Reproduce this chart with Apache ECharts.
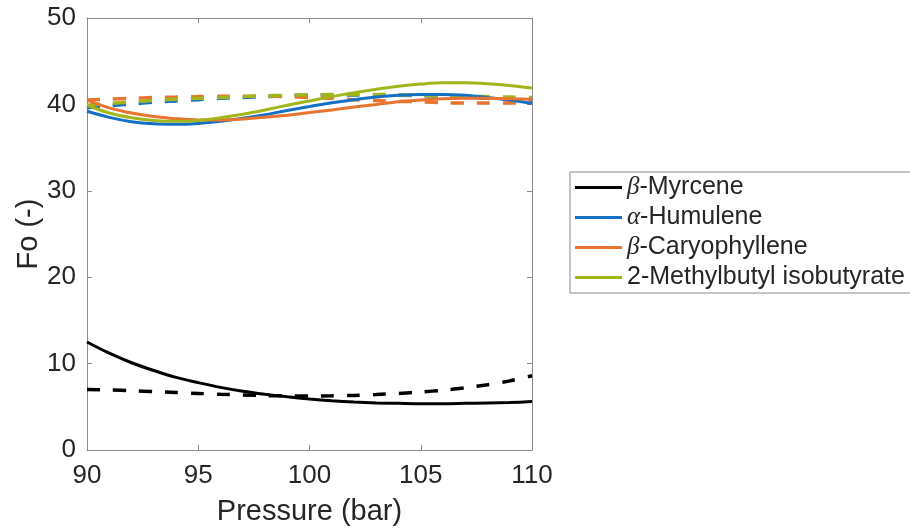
<!DOCTYPE html>
<html>
<head>
<meta charset="utf-8">
<script src="https://cdn.jsdelivr.net/npm/echarts@6/dist/echarts.min.js"></script>
<style>html,body{margin:0;padding:0;background:#fff}#c{width:910px;height:531px}</style>
</head>
<body>
<div id="c"></div>
<script>
// Pressure grid (bar)
const pressure = [90,91,92,93,94,95,96,97,98,99,100,101,102,103,104,105,106,107,108,109,110];
// Solid curves
const myrceneSolid = [12.5,11.2,10.1,9.2,8.4,7.8,7.25,6.8,6.45,6.15,5.9,5.7,5.55,5.45,5.4,5.35,5.35,5.4,5.45,5.5,5.6];
const humuleneSolid = [39.2,38.5,38.0,37.75,37.7,37.8,38.05,38.4,38.8,39.3,39.75,40.2,40.55,40.85,41.05,41.15,41.15,41.05,40.8,40.5,40.1];
const caryoSolid = [40.5,39.6,39.0,38.6,38.35,38.2,38.2,38.3,38.5,38.75,39.05,39.35,39.7,40.0,40.3,40.5,40.65,40.7,40.7,40.65,40.6];
const methylSolid = [39.9,39.0,38.45,38.15,38.05,38.15,38.45,38.85,39.35,39.9,40.4,40.9,41.35,41.75,42.1,42.35,42.5,42.5,42.4,42.2,41.9];
// Dashed curves
const myrceneDashed = [7.0,6.95,6.85,6.75,6.65,6.55,6.45,6.38,6.3,6.27,6.25,6.27,6.32,6.42,6.55,6.72,6.92,7.2,7.55,8.0,8.6];
const humuleneDashed = [39.6,39.85,40.05,40.25,40.4,40.55,40.7,40.8,40.9,41.0,41.05,41.1,41.1,41.1,41.05,41.0,40.95,40.85,40.7,40.55,40.4];
const caryoDashed = [40.5,40.6,40.7,40.8,40.85,40.9,40.95,40.95,40.95,40.9,40.8,40.7,40.55,40.45,40.35,40.3,40.2,40.15,40.15,40.15,40.15];
const methylDashed = [39.9,40.1,40.3,40.45,40.6,40.7,40.8,40.9,41.0,41.05,41.1,41.15,41.15,41.15,41.1,41.05,41.0,40.95,40.9,40.85,40.8];
// Legend names
const names = ['β-Myrcene','α-Humulene','β-Caryophyllene','2-Methylbutyl isobutyrate'];
const colors = ['#000000','#1470c4','#e8742f','#a2b51a'];

const pair = arr => pressure.map((p,i)=>[p,arr[i]]);
const solid = [myrceneSolid, humuleneSolid, caryoSolid, methylSolid];
const dashed = [myrceneDashed, humuleneDashed, caryoDashed, methylDashed];

const series = [];
solid.forEach((d,i)=>series.push({
  name:names[i], type:'line', data:pair(d), symbol:'none', smooth:0.3,
  lineStyle:{color:colors[i], width:3}, itemStyle:{color:colors[i]}, z:3
}));
dashed.forEach((d,i)=>series.push({
  name:names[i]+' (dashed)', type:'line', data:pair(d), symbol:'none', smooth:0.3,
  lineStyle:{color:colors[i], width:3.5, type:[13,13]}, itemStyle:{color:colors[i]}, z:2
}));

const axisCol = '#8a8a8a';
const txtCol = '#262626';
const chart = echarts.init(document.getElementById('c'), null, {renderer:'canvas'});
chart.setOption({
  animation:false,
  backgroundColor:'#fff',
  grid:{left:87, right:378, top:18, bottom:81, containLabel:false},
  xAxis:[{
    type:'value', min:90, max:110, interval:5, position:'bottom',
    name:'Pressure (bar)', nameLocation:'middle', nameGap:47,
    nameTextStyle:{fontFamily:'Liberation Sans', fontSize:29, color:txtCol},
    axisLine:{show:true, onZero:false, lineStyle:{color:axisCol, width:1}},
    axisTick:{show:true, inside:true, length:5, lineStyle:{color:axisCol}},
    axisLabel:{fontFamily:'Liberation Sans', fontSize:26, color:txtCol, margin:13},
    splitLine:{show:false}
  },{
    type:'value', min:90, max:110, interval:5, position:'top',
    axisLine:{show:true, onZero:false, lineStyle:{color:axisCol, width:1}},
    axisTick:{show:true, inside:true, length:5, lineStyle:{color:axisCol}},
    axisLabel:{show:false}, splitLine:{show:false}
  }],
  yAxis:[{
    type:'value', min:0, max:50, interval:10, position:'left',
    name:'Fo (-)', nameLocation:'middle', nameGap:44, nameRotate:90,
    nameTextStyle:{fontFamily:'Liberation Sans', fontSize:29, color:txtCol},
    axisLine:{show:true, onZero:false, lineStyle:{color:axisCol, width:1}},
    axisTick:{show:true, inside:true, length:5, lineStyle:{color:axisCol}},
    axisLabel:{fontFamily:'Liberation Sans', fontSize:26, color:txtCol, margin:11},
    splitLine:{show:false}
  },{
    type:'value', min:0, max:50, interval:10, position:'right',
    axisLine:{show:true, onZero:false, lineStyle:{color:axisCol, width:1}},
    axisTick:{show:true, inside:true, length:5, lineStyle:{color:axisCol}},
    axisLabel:{show:false}, splitLine:{show:false}
  }],
  legend:{
    data:names, orient:'vertical', left:570, top:172,
    icon:'rect', itemWidth:47, itemHeight:3, itemGap:5,
    padding:[3,10,3,5],
    borderColor:'#8a8a8a', borderWidth:1, backgroundColor:'#fff',
    selectedMode:false,
    formatter:function(n){
      const g = n.charAt(0);
      if (g==='β' || g==='α') return '{g|'+g+'}{t|'+n.slice(1)+'}';
      return '{t|'+n+'}';
    },
    textStyle:{color:txtCol, fontFamily:'Liberation Sans', fontSize:25,
      rich:{
        g:{fontFamily:'Liberation Serif', fontStyle:'italic', fontSize:25, color:txtCol},
        t:{fontFamily:'Liberation Sans', fontSize:25, color:txtCol}
      }}
  },
  series:series
});
</script>
</body>
</html>
